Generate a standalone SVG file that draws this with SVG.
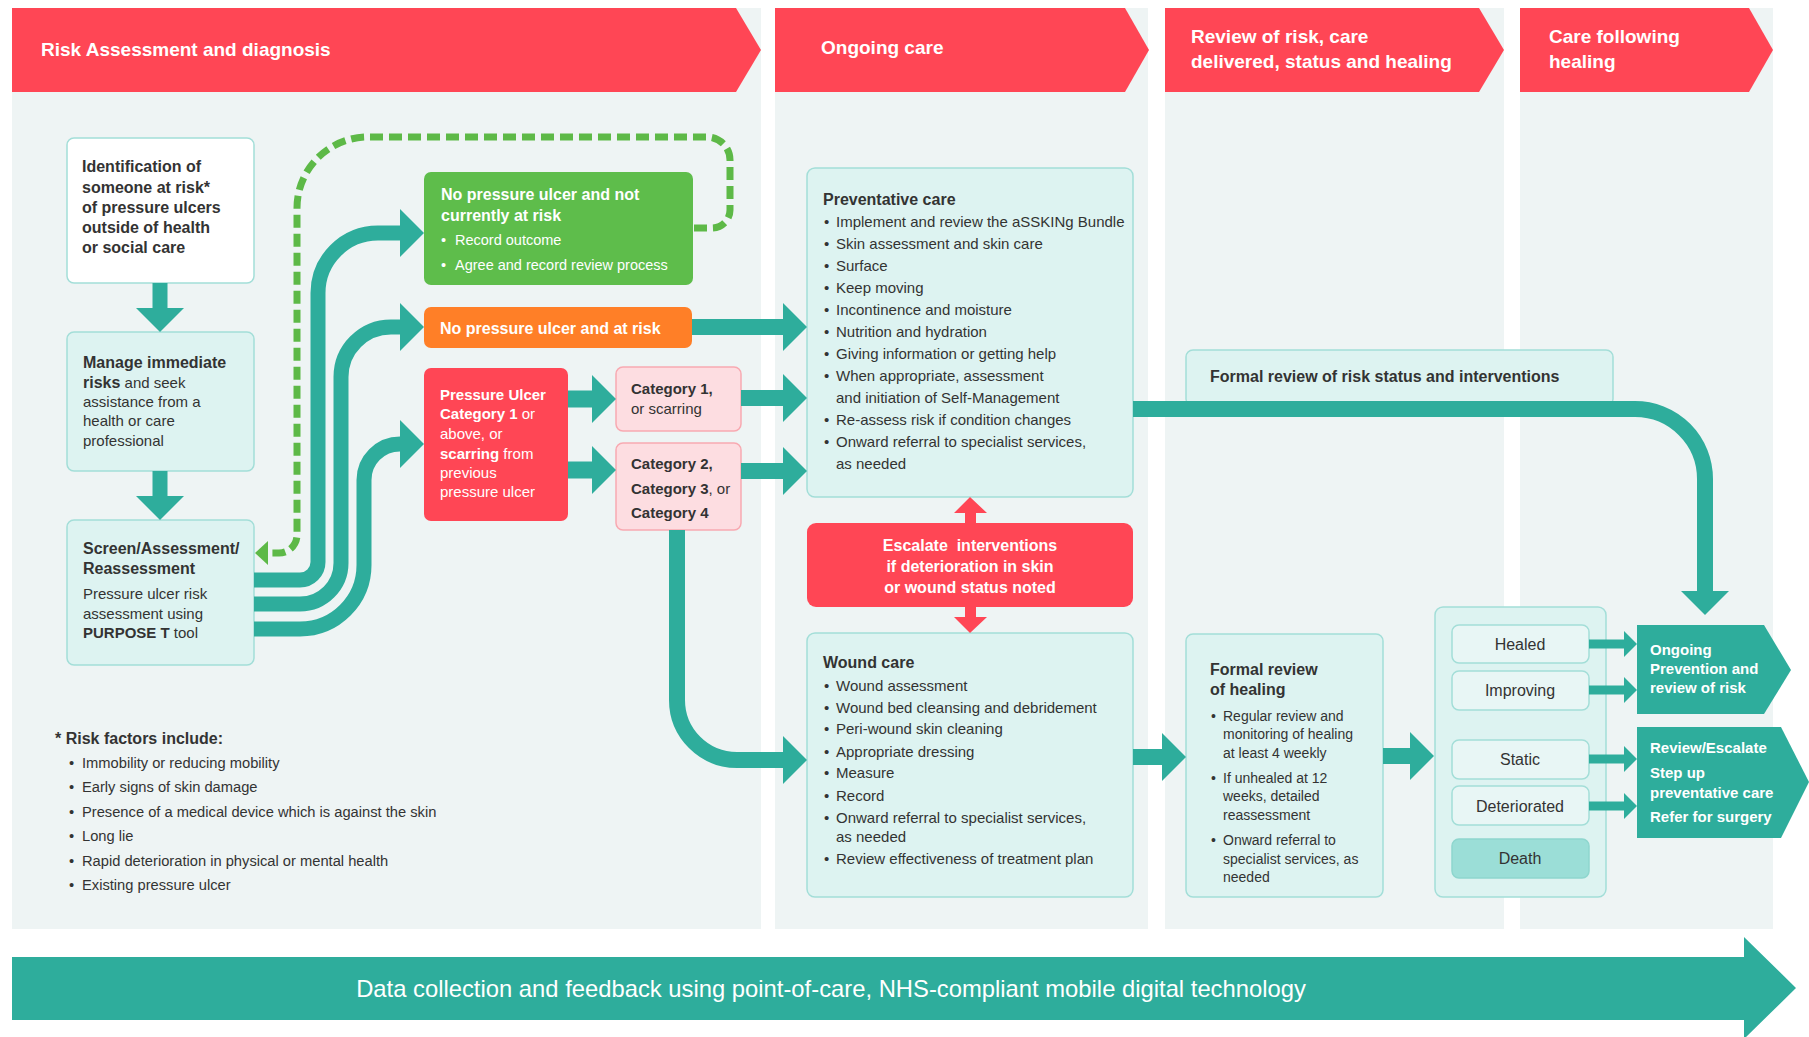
<svg xmlns="http://www.w3.org/2000/svg" width="1809" height="1037" viewBox="0 0 1809 1037">
<style>
text{font-family:"Liberation Sans",Arial,sans-serif;fill:#333}
.b{font-weight:bold}
.w{fill:#fff}
.hd{font-size:19px;font-weight:bold;fill:#fff}
.col{fill:#EEF4F4}
.hdr{fill:#FF4655}
.lb{fill:#DDF3F1;stroke:#A3DED8;stroke-width:1.5}
.wb{fill:#fff;stroke:#A3DED8;stroke-width:1.5}
.st{fill:#E8F6F5;stroke:#A3DED8;stroke-width:1.5}
.pk{fill:#FDDDE1;stroke:#F8A9B1;stroke-width:1.5}
.f14{font-size:14px}
.f15{font-size:15px}
.f16{font-size:16px}
.c{text-anchor:middle}
.conn{fill:none;stroke:#2EAD9C}
.s16{stroke-width:16}
.s9{stroke-width:9}
.teal{fill:#2EAD9C}
.red{fill:#FF4655}
</style>
<defs>
<marker id="ah" markerUnits="userSpaceOnUse" viewBox="0 0 24 48" markerWidth="24" markerHeight="48" refX="0" refY="24" orient="auto"><path d="M0,0 L24,24 L0,48 Z" fill="#2EAD9C"/></marker>
<marker id="ahs" markerUnits="userSpaceOnUse" viewBox="0 0 13 26" markerWidth="13" markerHeight="26" refX="0" refY="13" orient="auto"><path d="M0,0 L13,13 L0,26 Z" fill="#2EAD9C"/></marker>
</defs>

<g id="columns">
<rect class="col" x="12" y="8" width="749" height="921"/>
<rect class="col" x="775" y="8" width="373" height="921"/>
<rect class="col" x="1165" y="8" width="339" height="921"/>
<rect class="col" x="1520" y="8" width="253" height="921"/>
</g>

<g id="headers">
<polygon class="hdr" points="12,8 736,8 761,50 736,92 12,92"/>
<text class="hd" x="41" y="56">Risk Assessment and diagnosis</text>
<polygon class="hdr" points="775,8 1125,8 1149,50 1125,92 775,92"/>
<text class="hd" x="821" y="54">Ongoing care</text>
<polygon class="hdr" points="1165,8 1479,8 1504,50 1479,92 1165,92"/>
<text class="hd" x="1191" y="43">Review of risk, care</text>
<text class="hd" x="1191" y="68">delivered, status and healing</text>
<polygon class="hdr" points="1520,8 1749,8 1773,50 1749,92 1520,92"/>
<text class="hd" x="1549" y="43">Care following</text>
<text class="hd" x="1549" y="68">healing</text>
</g>

<g id="n-identification">
<rect class="wb" x="67" y="138" width="187" height="145" rx="7"/>
<text class="b f16" x="82" y="172">Identification of</text>
<text class="b f16" x="82" y="193">someone at risk*</text>
<text class="b f16" x="82" y="213">of pressure ulcers</text>
<text class="b f16" x="82" y="233">outside of health</text>
<text class="b f16" x="82" y="253">or social care</text>
</g>

<g id="n-manage">
<rect class="lb" x="67" y="332" width="187" height="139" rx="7"/>
<text class="f15" x="83" y="368"><tspan class="b f16">Manage immediate</tspan></text>
<text class="f15" x="83" y="388"><tspan class="b f16">risks</tspan> and seek</text>
<text class="f15" x="83" y="407">assistance from a</text>
<text class="f15" x="83" y="426">health or care</text>
<text class="f15" x="83" y="446">professional</text>
</g>

<g id="n-screen">
<rect class="lb" x="67" y="520" width="187" height="145" rx="7"/>
<text class="b f16" x="83" y="554">Screen/Assessment/</text>
<text class="b f16" x="83" y="574">Reassessment</text>
<text class="f15" x="83" y="599">Pressure ulcer risk</text>
<text class="f15" x="83" y="619">assessment using</text>
<text class="f15" x="83" y="638"><tspan class="b">PURPOSE T</tspan> tool</text>
</g>

<g id="n-not-at-risk">
<rect x="424" y="172" width="269" height="113" rx="7" fill="#5EBD4B"/>
<text class="b w f16" x="441" y="200">No pressure ulcer and not</text>
<text class="b w f16" x="441" y="221">currently at risk</text>
<text class="w" font-size="14.5" x="441" y="245">•</text><text class="w" font-size="14.5" x="455" y="245">Record outcome</text>
<text class="w" font-size="14.5" x="441" y="270">•</text><text class="w" font-size="14.5" x="455" y="270">Agree and record review process</text>
</g>

<g id="n-at-risk">
<rect x="424" y="307" width="268" height="41" rx="7" fill="#FF7F27"/>
<text class="b w f16" x="440" y="334">No pressure ulcer and at risk</text>
</g>

<g id="n-pressure-ulcer">
<rect class="red" x="424" y="368" width="144" height="153" rx="7"/>
<text class="w f15" x="440" y="400"><tspan class="b">Pressure Ulcer</tspan></text>
<text class="w f15" x="440" y="419"><tspan class="b">Category 1</tspan> or</text>
<text class="w f15" x="440" y="439">above, or</text>
<text class="w f15" x="440" y="459"><tspan class="b">scarring</tspan> from</text>
<text class="w f15" x="440" y="478">previous</text>
<text class="w f15" x="440" y="497">pressure ulcer</text>
</g>

<g id="n-cat1">
<rect class="pk" x="616" y="367" width="125" height="64" rx="7"/>
<text class="b f15" x="631" y="394">Category 1,</text>
<text class="f15" x="631" y="414">or scarring</text>
</g>

<g id="n-cat234">
<rect class="pk" x="616" y="443" width="125" height="87" rx="7"/>
<text class="b f15" x="631" y="469">Category 2,</text>
<text class="f15" x="631" y="494"><tspan class="b">Category 3</tspan>, or</text>
<text class="b f15" x="631" y="518">Category 4</text>
</g>

<g id="n-risk-factors">
<text class="b f16" x="55" y="744">* Risk factors include:</text>
<g font-size="14.7">
<text x="69" y="768">•</text><text x="82" y="768">Immobility or reducing mobility</text>
<text x="69" y="792">•</text><text x="82" y="792">Early signs of skin damage</text>
<text x="69" y="817">•</text><text x="82" y="817">Presence of a medical device which is against the skin</text>
<text x="69" y="841">•</text><text x="82" y="841">Long lie</text>
<text x="69" y="866">•</text><text x="82" y="866">Rapid deterioration in physical or mental health</text>
<text x="69" y="890">•</text><text x="82" y="890">Existing pressure ulcer</text>
</g>
</g>

<g id="n-preventative">
<rect class="lb" x="807" y="168" width="326" height="329" rx="8"/>
<text class="b f16" x="823" y="205">Preventative care</text>
<g class="f15">
<text x="824" y="227">•</text><text x="836" y="227">Implement and review the aSSKINg Bundle</text>
<text x="824" y="249">•</text><text x="836" y="249">Skin assessment and skin care</text>
<text x="824" y="271">•</text><text x="836" y="271">Surface</text>
<text x="824" y="293">•</text><text x="836" y="293">Keep moving</text>
<text x="824" y="315">•</text><text x="836" y="315">Incontinence and moisture</text>
<text x="824" y="337">•</text><text x="836" y="337">Nutrition and hydration</text>
<text x="824" y="359">•</text><text x="836" y="359">Giving information or getting help</text>
<text x="824" y="381">•</text><text x="836" y="381">When appropriate, assessment</text>
<text x="836" y="403">and initiation of Self-Management</text>
<text x="824" y="425">•</text><text x="836" y="425">Re-assess risk if condition changes</text>
<text x="824" y="447">•</text><text x="836" y="447">Onward referral to specialist services,</text>
<text x="836" y="469">as needed</text>
</g>
</g>

<g id="n-escalate">
<rect class="red" x="807" y="523" width="326" height="84" rx="9"/>
<text class="b w f16 c" x="970" y="551" xml:space="preserve">Escalate  interventions</text>
<text class="b w f16 c" x="970" y="572">if deterioration in skin</text>
<text class="b w f16 c" x="970" y="593">or wound status noted</text>
</g>

<g id="n-wound">
<rect class="lb" x="807" y="633" width="326" height="264" rx="8"/>
<text class="b f16" x="823" y="668">Wound care</text>
<g class="f15">
<text x="824" y="691">•</text><text x="836" y="691">Wound assessment</text>
<text x="824" y="713">•</text><text x="836" y="713">Wound bed cleansing and debridement</text>
<text x="824" y="734">•</text><text x="836" y="734">Peri-wound skin cleaning</text>
<text x="824" y="757">•</text><text x="836" y="757">Appropriate dressing</text>
<text x="824" y="778">•</text><text x="836" y="778">Measure</text>
<text x="824" y="801">•</text><text x="836" y="801">Record</text>
<text x="824" y="823">•</text><text x="836" y="823">Onward referral to specialist services,</text>
<text x="836" y="842">as needed</text>
<text x="824" y="864">•</text><text x="836" y="864">Review effectiveness of treatment plan</text>
</g>
</g>

<g id="n-formal-risk">
<rect class="lb" x="1186" y="350" width="427" height="56" rx="7"/>
<text class="b f16" x="1210" y="382">Formal review of risk status and interventions</text>
</g>

<g id="n-formal-healing">
<rect class="lb" x="1186" y="634" width="197" height="263" rx="7"/>
<text class="b f16" x="1210" y="675">Formal review</text>
<text class="b f16" x="1210" y="695">of healing</text>
<g class="f14">
<text x="1211" y="721">•</text><text x="1223" y="721">Regular review and</text>
<text x="1223" y="739">monitoring of healing</text>
<text x="1223" y="758">at least 4 weekly</text>
<text x="1211" y="783">•</text><text x="1223" y="783">If unhealed at 12</text>
<text x="1223" y="801">weeks, detailed</text>
<text x="1223" y="820">reassessment</text>
<text x="1211" y="845">•</text><text x="1223" y="845">Onward referral to</text>
<text x="1223" y="864">specialist services, as</text>
<text x="1223" y="882">needed</text>
</g>
</g>

<g id="n-status">
<rect class="lb" x="1435" y="607" width="171" height="290" rx="8"/>
<g id="n-healed"><rect class="st" x="1452" y="625" width="137" height="38" rx="7"/><text class="f16 c" x="1520" y="650">Healed</text></g>
<g id="n-improving"><rect class="st" x="1452" y="671" width="137" height="39" rx="7"/><text class="f16 c" x="1520" y="696">Improving</text></g>
<g id="n-static"><rect class="st" x="1452" y="740" width="137" height="39" rx="7"/><text class="f16 c" x="1520" y="765">Static</text></g>
<g id="n-deteriorated"><rect class="st" x="1452" y="786" width="137" height="39" rx="7"/><text class="f16 c" x="1520" y="812">Deteriorated</text></g>
<g id="n-death"><rect x="1452" y="839" width="137" height="39" rx="7" fill="#9BDED7" stroke="#8ED6CE" stroke-width="1.5"/><text class="f16 c" x="1520" y="864">Death</text></g>
</g>

<g id="n-ongoing-prevention">
<polygon class="teal" points="1637,625 1764,625 1791,670 1764,714 1637,714"/>
<text class="b w f15" x="1650" y="655">Ongoing</text>
<text class="b w f15" x="1650" y="674">Prevention and</text>
<text class="b w f15" x="1650" y="693">review of risk</text>
</g>

<g id="n-review-escalate">
<polygon class="teal" points="1637,727 1781,727 1809,782 1781,838 1637,838"/>
<text class="b w f15" x="1650" y="753">Review/Escalate</text>
<text class="b w f15" x="1650" y="778">Step up</text>
<text class="b w f15" x="1650" y="798">preventative care</text>
<text class="b w f15" x="1650" y="822">Refer for surgery</text>
</g>

<g id="n-data">
<polygon class="teal" points="12,957 1744,957 1744,937 1796,988 1744,1039 1744,1020 12,1020"/>
<text class="w c" font-size="23.8" x="831" y="997">Data collection and feedback using point-of-care, NHS-compliant mobile digital technology</text>
</g>

<g id="connectors">
<path class="conn" d="M160,283 V308" stroke-width="15" marker-end="url(#ah)"/>
<path class="conn" d="M160,471 V496" stroke-width="15" marker-end="url(#ah)"/>
<path class="conn" d="M254,580 H300 A18,18 0 0 0 318,562 V293 A60,60 0 0 1 378,233 H400" stroke-width="15" marker-end="url(#ah)"/>
<path class="conn" d="M254,604 H300 A41,41 0 0 0 341,563 V377 A50,50 0 0 1 391,327 H400" stroke-width="15" marker-end="url(#ah)"/>
<path class="conn" d="M254,629 H300 A64,64 0 0 0 364,565 V480 A36,36 0 0 1 400,444" stroke-width="15" marker-end="url(#ah)"/>
<path d="M694,228 H712 A18,18 0 0 0 730,210 V160 A23,23 0 0 0 707,137 H368 A71,71 0 0 0 297,208 V535 A18,18 0 0 1 279,553 H267" fill="none" stroke="#5DB947" stroke-width="7" stroke-dasharray="13 6"/>
<polygon points="268,541 255,553 268,565" fill="#5DB947"/>
<path class="conn s16" d="M692,327 H783" marker-end="url(#ah)"/>
<path class="conn" d="M568,399 H592" stroke-width="17" marker-end="url(#ah)"/>
<path class="conn" d="M568,470 H592" stroke-width="17" marker-end="url(#ah)"/>
<path class="conn s16" d="M741,398 H783" marker-end="url(#ah)"/>
<path class="conn s16" d="M741,471 H783" marker-end="url(#ah)"/>
<path class="conn s16" d="M677,530 V700 A60,60 0 0 0 737,760 H783" marker-end="url(#ah)"/>
<path class="conn s16" d="M1133,409 H1635 A70,70 0 0 1 1705,479 V591" marker-end="url(#ah)"/>
<path class="conn s16" d="M1133,757 H1162" marker-end="url(#ah)"/>
<path class="conn s16" d="M1383,756 H1410" marker-end="url(#ah)"/>
<path class="conn s9" d="M1589,644 H1624" marker-end="url(#ahs)"/>
<path class="conn s9" d="M1589,690 H1624" marker-end="url(#ahs)"/>
<path class="conn s9" d="M1589,759 H1624" marker-end="url(#ahs)"/>
<path class="conn s9" d="M1589,806 H1624" marker-end="url(#ahs)"/>
<polygon class="red" points="965,524 965,513 954,513 970,497 987,513 976,513 976,524"/>
<polygon class="red" points="965,606 965,617 954,617 970,633 987,617 976,617 976,606"/>
</g>
</svg>
